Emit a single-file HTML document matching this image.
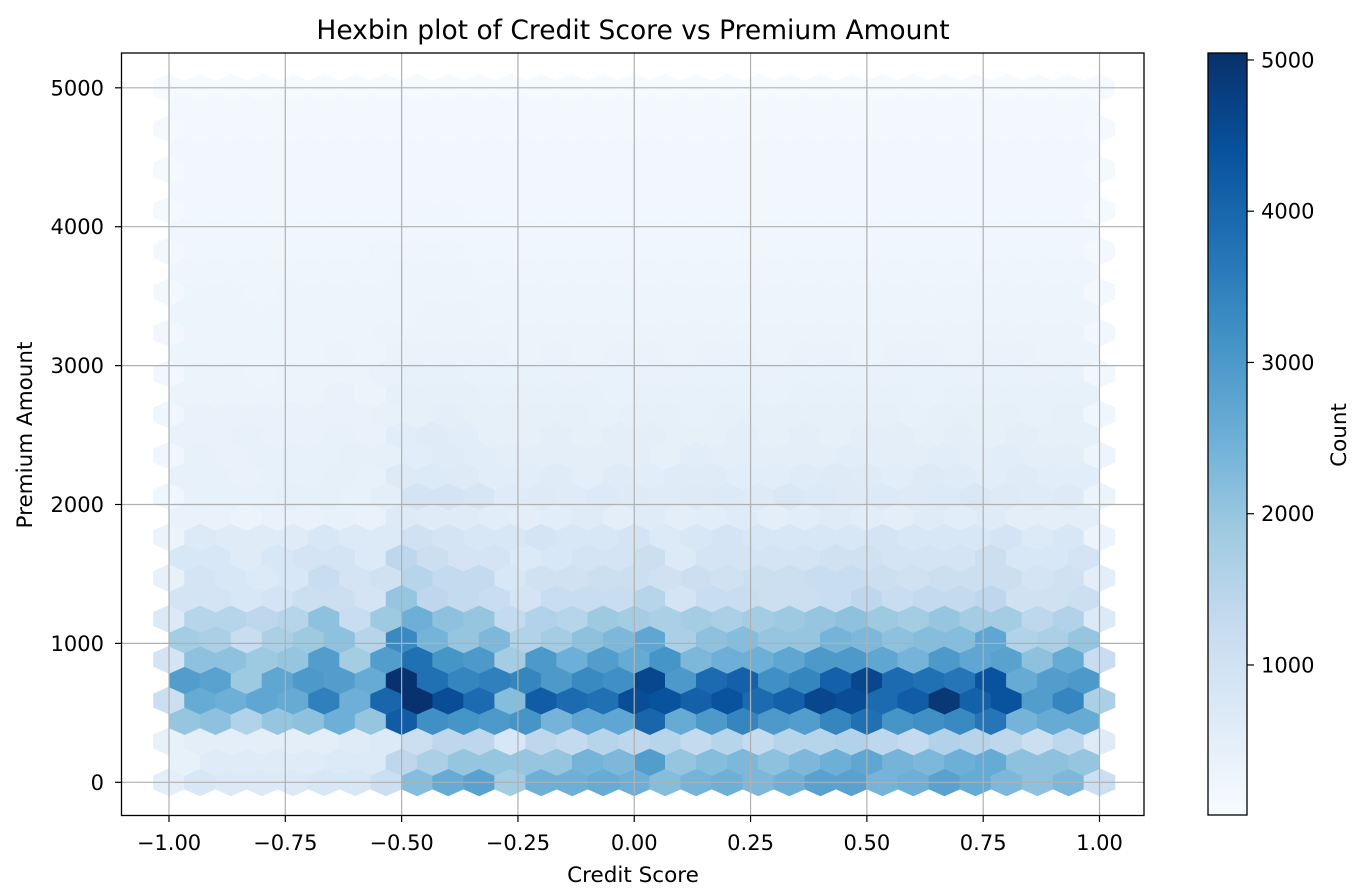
<!DOCTYPE html>
<html><head><meta charset="utf-8">
<style>
html,body{margin:0;padding:0;background:#fff;}
svg{display:block;font-family:"DejaVu Sans","Liberation Sans",sans-serif;}
</style></head>
<body>
<svg id="chart" width="1372" height="894" viewBox="0 0 1372 894" xmlns="http://www.w3.org/2000/svg">
<rect x="0" y="0" width="1372" height="894" fill="#fff"/>
<defs>
<linearGradient id="cbgrad" x1="0" y1="1" x2="0" y2="0">
<stop offset="0" stop-color="#f7fbff"/><stop offset="0.125" stop-color="#deebf7"/><stop offset="0.25" stop-color="#c6dbef"/><stop offset="0.375" stop-color="#9ecae1"/><stop offset="0.5" stop-color="#6baed6"/><stop offset="0.625" stop-color="#4292c6"/><stop offset="0.75" stop-color="#2171b5"/><stop offset="0.875" stop-color="#08519c"/><stop offset="1" stop-color="#08306b"/>
</linearGradient>
<clipPath id="plotclip"><rect x="121.5" y="53" width="1022.5" height="762.5"/></clipPath>
</defs>
<text x="633" y="39" font-size="26.5" text-anchor="middle" fill="#000">Hexbin plot of Credit Score vs Premium Amount</text>
<g id="hexes" clip-path="url(#plotclip)"></g>
<g id="grid"></g>
<rect x="121.5" y="53" width="1022.5" height="762.5" fill="none" stroke="#000" stroke-width="1.3"/>
<g id="xaxis"></g>
<g id="yaxis"></g>
<text x="633" y="882" font-size="21.5" text-anchor="middle">Credit Score</text>
<text transform="translate(32,435) rotate(-90)" font-size="21.5" text-anchor="middle">Premium Amount</text>
<rect x="1208" y="53" width="39" height="762" fill="url(#cbgrad)" stroke="#000" stroke-width="1.3"/>
<g id="cbaxis"></g>
<text transform="translate(1346,435) rotate(-90)" font-size="21.5" text-anchor="middle">Count</text>
</svg>
<script>
const xTicks=[-1,-0.75,-0.5,-0.25,0,0.25,0.5,0.75,1];
const xTickLabels=["\u22121.00","\u22120.75","\u22120.50","\u22120.25","0.00","0.25","0.50","0.75","1.00"];
const yTicks=[0,1000,2000,3000,4000,5000];
const cbTicks=[1000,2000,3000,4000,5000];
const vMin=8, vMax=5046;
const xMin=-1, xMax=1, yMin=0, yMax=5000, nx=30, ny=17;
const row0=[500,800,700,700,700,800,800,1100,2200,2600,2800,1800,2500,2500,2600,2500,2200,2400,2500,2300,2500,2800,2800,2400,2500,2800,2600,2300,2100,2300,1100];
const row1=[400,600,600,600,600,700,700,1400,1700,2000,2000,2000,2000,2400,2300,2900,2000,2200,2300,2100,2300,2500,2700,2400,2300,2500,2600,2100,2100,2000];
const row2=[400,500,500,500,500,500,600,700,1100,1400,1400,800,1400,1300,1500,1400,1500,1300,1500,1300,1500,1500,1600,1400,1300,1600,1500,1400,1100,1400,600];
const row3=[2000,2100,1600,2000,2100,2500,2000,4200,3200,3100,3000,3100,2400,2700,2700,4000,2600,3000,3400,3000,2900,3400,3800,3100,3200,3300,3700,2400,2600,2600];
const row4=[1100,2600,2500,2700,2600,3500,2500,4000,5000,4500,3900,2200,4200,3900,3800,4500,4400,4100,4400,3900,4100,4600,4500,3900,4200,4900,4100,4400,2900,3400,1700];
const row5=[2900,2800,1900,2700,3000,2900,2600,5000,3800,3400,3500,3400,3000,3300,3200,4600,3000,3900,4100,3200,3400,4100,4600,3900,3800,3700,4400,2600,2900,3000];
const row6=[900,2100,2100,1900,2000,2900,1800,2900,3800,3100,3000,1800,3000,2500,2900,2600,3100,2300,2500,2500,2700,3000,3000,2700,2400,3000,2700,2800,2100,2600,1200];
const row7=[1800,1700,1200,1700,1900,2100,1500,3300,2400,2000,2300,1600,1800,2100,2300,2700,1700,2100,2200,2000,2000,2400,2300,2100,2200,2200,2700,1600,1700,2000];
const row8=[700,1500,1500,1400,1500,2100,1200,1900,2500,2100,2000,1300,1600,1500,1900,1800,1700,1800,1700,1800,1900,2000,2100,1900,1800,2000,1800,1800,1400,1600,700];
const row9=[900,900,800,900,1100,1100,900,2000,1400,1300,1200,900,1200,1200,1200,1500,900,1200,1200,1100,1100,1200,1400,1200,1300,1300,1400,1000,1000,1100];
const row10=[400,900,800,700,800,1200,900,1000,1500,1300,1300,800,1000,1000,1100,1100,1000,1100,1000,1100,1100,1200,1200,1100,1000,1100,1100,1100,900,1000,500];
const row11=[800,800,600,800,900,900,700,1400,1100,900,900,700,800,900,900,1100,700,900,900,900,900,1000,1000,900,900,900,1100,800,800,900];
const row12=[300,700,600,600,600,800,700,700,1000,900,800,800,900,800,800,900,700,800,900,800,800,800,800,900,800,800,800,900,700,800,300];
const row13=[350,350,300,350,350,400,350,650,600,600,550,500,550,600,500,600,500,550,600,500,550,600,550,500,600,550,600,500,500,500];
const row14=[200,400,400,400,450,450,400,500,900,900,850,600,650,600,700,650,600,650,700,650,750,700,650,700,650,700,750,650,600,650,300];
const row15=[400,400,350,400,400,450,400,650,700,650,550,550,600,500,600,550,600,600,550,550,600,650,600,550,650,600,550,600,550,550];
const row16=[200,400,350,400,400,400,450,450,550,600,550,500,500,500,500,500,450,550,500,500,500,500,550,500,500,550,500,550,500,500,250];
const row17=[350,350,400,350,350,400,350,550,600,550,450,450,500,450,500,500,450,450,500,450,500,450,500,500,450,500,450,500,450,450];
const row18=[200,350,350,350,350,350,350,400,450,500,450,450,450,450,400,450,450,400,450,450,450,450,450,450,400,450,450,450,400,450,200];
const row19=[300,300,300,300,300,350,300,450,450,450,400,400,420,400,380,400,420,400,400,380,400,420,400,400,380,400,420,400,400,400];
const row20=[170,300,300,280,300,300,300,350,400,400,380,380,380,360,380,380,360,380,380,360,380,380,380,360,380,380,360,380,360,380,180];
const row21=[280,280,270,280,280,290,280,340,340,340,330,320,330,320,330,330,320,330,330,320,330,330,320,330,330,320,330,330,320,320];
const row22=[150,270,270,260,270,270,270,300,320,320,310,300,310,300,310,310,300,310,310,300,310,310,300,310,310,300,310,310,300,300,150];
const row23=[260,260,250,260,260,260,260,280,290,290,280,280,280,280,280,280,280,280,280,280,280,280,280,280,280,280,280,280,280,280];
const row24=[130,250,250,240,250,250,250,260,270,270,260,260,260,260,260,260,260,260,260,260,260,260,260,260,260,260,260,260,260,260,130];
const row25=[240,240,230,240,240,240,240,250,250,250,240,240,240,240,240,240,240,240,240,240,240,240,240,240,240,240,240,240,240,240];
const row26=[110,220,220,220,220,220,220,230,230,230,220,220,220,220,220,220,220,220,220,220,220,220,220,220,220,220,220,220,220,220,110];
const row27=[190,190,190,190,190,190,190,200,200,200,190,190,190,190,190,190,190,190,190,190,190,190,190,190,190,190,190,190,190,190];
const row28=[90,180,180,180,180,180,180,180,190,190,180,180,180,180,180,180,180,180,180,180,180,180,180,180,180,180,180,180,180,180,90];
const row29=[170,170,170,170,170,170,170,170,170,170,170,170,170,170,170,170,170,170,170,170,170,170,170,170,170,170,170,170,170,170];
const row30=[80,160,160,160,160,160,160,160,160,160,160,160,160,160,160,160,160,160,160,160,160,160,160,160,160,160,160,160,160,160,80];
const row31=[150,150,150,150,150,150,150,150,150,150,150,150,150,150,150,150,150,150,150,150,150,150,150,150,150,150,150,150,150,150];
const row32=[70,140,140,140,140,140,140,140,140,140,140,140,140,140,140,140,140,140,140,140,140,140,140,140,140,140,140,140,140,140,70];
const row33=[130,130,130,130,130,130,130,130,130,130,130,130,130,130,130,130,130,130,130,130,130,130,130,130,130,130,130,130,130,130];
const row34=[30,65,65,65,65,65,65,65,65,65,65,65,65,65,65,65,65,65,65,65,65,65,65,65,65,65,65,65,65,65,30];
const rows=[row0,row1,row2,row3,row4,row5,row6,row7,row8,row9,row10,row11,row12,row13,row14,row15,row16,row17,row18,row19,row20,row21,row22,row23,row24,row25,row26,row27,row28,row29,row30,row31,row32,row33,row34];

const NS="http://www.w3.org/2000/svg";
const X0=169, X1=1099.5, Y0=782.3, YPER=0.1389;
function xs(v){return X0+(v-xMin)/(xMax-xMin)*(X1-X0);}
function ys(v){return Y0-(v-yMin)*YPER;}
const cbTop=53, cbBot=815;
function cbs(v){return cbBot-(v-vMin)/(vMax-vMin)*(cbBot-cbTop);}
const stops=["#f7fbff","#deebf7","#c6dbef","#9ecae1","#6baed6","#4292c6","#2171b5","#08519c","#08306b"].map(h=>[parseInt(h.substr(1,2),16),parseInt(h.substr(3,2),16),parseInt(h.substr(5,2),16)]);
function cmap(v){let t=(v-vMin)/(vMax-vMin);t=Math.max(0,Math.min(1,t));const p=t*8,i=Math.min(7,Math.floor(p)),f=p-i;const a=stops[i],b=stops[i+1];return "rgb("+a.map((c,k)=>Math.round(c+(b[k]-c)*f)).join(",")+")";}
function mk(tag,attrs,parent){const e=document.createElementNS(NS,tag);for(const k in attrs)e.setAttribute(k,attrs[k]);parent.appendChild(e);return e;}

const sx=(xMax-xMin)/nx, sy=(yMax-yMin)/ny;
const hg=document.getElementById('hexes');
rows.forEach((r,k)=>{
  const off=(k%2)*0.5;
  const cy=yMin+k*sy/2;
  r.forEach((v,i)=>{
    const cx=xMin+(i+off)*sx;
    const px=xs(cx), py=ys(cy);
    const hw=(xs(cx+sx/2)-px), h3=(py-ys(cy+sy/3)), h6=(py-ys(cy+sy/6));
    const pts=[[px+hw,py+h6],[px+hw,py-h6],[px,py-h3],[px-hw,py-h6],[px-hw,py+h6],[px,py+h3]].map(p=>p[0].toFixed(2)+","+p[1].toFixed(2)).join(" ");
    const c=cmap(v);
    const el=mk('polygon',{points:pts,fill:c,stroke:c,'stroke-width':'0.6'},hg);
    
    
  });
});

const gg=document.getElementById('grid');
xTicks.forEach(t=>{const l=mk('line',{x1:xs(t),x2:xs(t),y1:53,y2:815.5,stroke:'#b0b0b0','stroke-width':'1.2'},gg);

});
yTicks.forEach(t=>{const l=mk('line',{x1:121.5,x2:1144,y1:ys(t),y2:ys(t),stroke:'#b0b0b0','stroke-width':'1.2'},gg);

});

const xa=document.getElementById('xaxis');
xTicks.forEach((t,i)=>{mk('line',{x1:xs(t),x2:xs(t),y1:815.5,y2:822,stroke:'#000','stroke-width':'1.2'},xa);
const tx=mk('text',{x:xs(t),y:850,'font-size':'21','text-anchor':'middle'},xa);tx.textContent=xTickLabels[i];

});
const ya=document.getElementById('yaxis');
yTicks.forEach(t=>{mk('line',{x1:115,x2:121.5,y1:ys(t),y2:ys(t),stroke:'#000','stroke-width':'1.2'},ya);
const tx=mk('text',{x:104,y:ys(t)+7.5,'font-size':'21','text-anchor':'end'},ya);tx.textContent=String(t);

});
const ca=document.getElementById('cbaxis');
cbTicks.forEach(t=>{mk('line',{x1:1247,x2:1254,y1:cbs(t),y2:cbs(t),stroke:'#000','stroke-width':'1.2'},ca);
const tx=mk('text',{x:1261,y:cbs(t)+7.5,'font-size':'21','text-anchor':'start'},ca);tx.textContent=String(t);

});
</script>
</body></html>
